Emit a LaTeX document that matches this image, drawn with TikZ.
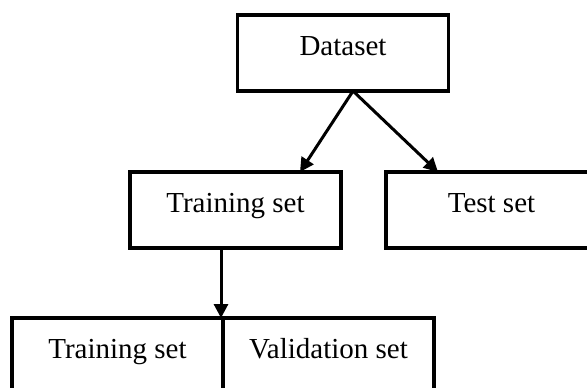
\documentclass[tikz,border=0pt]{standalone}
\usepackage{fontspec}
\setmainfont{Liberation Serif}
\usetikzlibrary{arrows.meta,positioning}

\begin{document}
\begin{tikzpicture}[
  x=1pt, y=-1pt,
  box/.style={draw, line width=3.8pt, minimum width=211pt, inner xsep=0pt, inner ysep=0pt,
              outer sep=0pt, text height=40.6pt, text depth=35.4pt,
              font=\fontsize{29}{34}\selectfont},
  arr/.style={-{Triangle[length=14pt, width=14pt]}, line width=3pt}
]
\clip (0,0) rectangle (587,388);

\node[box] (data) at (343,53) {Dataset};
\node[box, below=81pt of data, xshift=-107.5pt] (train) {Training set};
\node[box, right=45pt of train] (test) {Test set};
\node[box, below=70pt of train, xshift=-118pt] (subtrain) {Training set};
\node[box, right=0pt of subtrain] (valid) {Validation set};

\draw[arr] ([xshift=10pt]data.south) -- ([xshift=64.5pt]train.north);
\draw[arr] ([xshift=10pt]data.south) -- ([xshift=-53.5pt]test.north);
\draw[arr] ([xshift=-14.5pt]train.south) -- ([xshift=-2pt]subtrain.north east);
\end{tikzpicture}
\end{document}
